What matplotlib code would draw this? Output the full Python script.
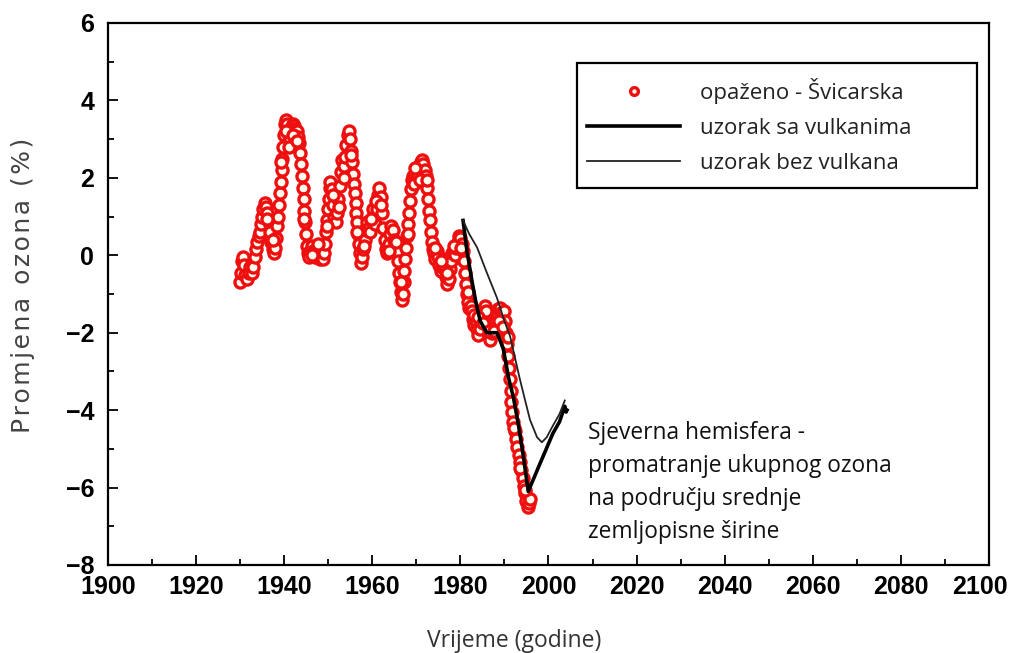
import numpy as np
import matplotlib.pyplot as plt
from matplotlib.patches import Rectangle
from matplotlib.transforms import ScaledTranslation

# observed ozone change, Switzerland (year, %)
obs_year = [
    1930.0, 1930.2, 1930.4, 1930.6, 1930.9, 1931.2, 1931.5, 1931.9, 1932.3, 1932.7,
    1933.0, 1933.3, 1933.6, 1933.9, 1934.2, 1934.5, 1934.8, 1935.0, 1935.3, 1935.6,
    1935.9, 1936.2, 1936.5, 1936.8, 1937.1, 1937.4, 1937.7, 1938.0, 1938.2, 1938.4,
    1938.6, 1938.8, 1939.0, 1939.2, 1939.4, 1939.6, 1939.8, 1940.0, 1940.2, 1940.4,
    1940.7, 1941.0, 1941.3, 1941.6, 1941.9, 1942.2, 1942.5, 1942.8, 1943.1, 1943.4,
    1943.6, 1943.8, 1944.0, 1944.2, 1944.4, 1944.6, 1944.8, 1945.0, 1945.2, 1945.4,
    1945.7, 1946.0, 1946.3, 1946.6, 1946.9, 1947.2, 1947.5, 1947.8, 1948.1, 1948.4,
    1948.7, 1949.0, 1949.3, 1949.5, 1949.7, 1949.9, 1950.1, 1950.3, 1950.5, 1950.8,
    1951.1, 1951.4, 1951.7, 1952.0, 1952.3, 1952.6, 1952.9, 1953.2, 1953.5, 1953.8,
    1954.1, 1954.4, 1954.7, 1955.0, 1955.2, 1955.4, 1955.6, 1955.8, 1956.0, 1956.2,
    1956.4, 1956.6, 1956.8, 1957.0, 1957.2, 1957.4, 1957.7, 1958.0, 1958.3, 1958.6,
    1958.9, 1959.2, 1959.5, 1959.8, 1960.1, 1960.4, 1960.7, 1961.0, 1961.3, 1961.6,
    1961.9, 1962.2, 1962.5, 1962.8, 1963.1, 1963.4, 1963.7, 1964.0, 1964.3, 1964.6,
    1964.9, 1965.2, 1965.5, 1965.8, 1966.1, 1966.3, 1966.5, 1966.7, 1966.9, 1967.1,
    1967.3, 1967.5, 1967.7, 1967.9, 1968.1, 1968.3, 1968.5, 1968.7, 1968.9, 1969.2,
    1969.5, 1969.8, 1970.1, 1970.4, 1970.7, 1971.0, 1971.3, 1971.6, 1971.9, 1972.2,
    1972.5, 1972.7, 1972.9, 1973.1, 1973.3, 1973.5, 1973.7, 1974.0, 1974.3, 1974.6,
    1974.9, 1975.2, 1975.5, 1975.8, 1976.1, 1976.4, 1976.7, 1977.0, 1977.3, 1977.6,
    1977.9, 1978.2, 1978.5, 1978.8, 1979.1, 1979.4, 1979.7, 1980.0, 1980.3, 1980.6,
    1980.8, 1981.0, 1981.2, 1981.4, 1981.7, 1982.0, 1982.3, 1982.6, 1982.9, 1983.2,
    1983.5, 1983.8, 1984.1, 1984.4, 1984.7, 1985.0, 1985.3, 1985.6, 1985.9, 1986.2,
    1986.5, 1986.8, 1987.1, 1987.4, 1987.7, 1988.0, 1988.3, 1988.6, 1988.9, 1989.2,
    1989.5, 1989.8, 1990.1, 1990.4, 1990.6, 1990.8, 1991.0, 1991.2, 1991.4, 1991.6,
    1991.8, 1992.0, 1992.3, 1992.6, 1992.9, 1993.2, 1993.5, 1993.8, 1994.1, 1994.4,
    1994.7, 1995.0, 1995.3, 1995.6, 1995.9,
    # second, overlapping readings where the band is wide
    1936.0, 1937.5, 1939.3, 1940.5, 1941.2, 1942.0, 1943.0, 1944.5, 1946.2, 1947.7,
    1949.8, 1951.0, 1952.4, 1953.6, 1955.1, 1956.5, 1958.2, 1959.6, 1960.9, 1962.0,
    1963.8, 1965.4, 1966.6, 1968.2, 1969.6, 1970.9, 1972.4, 1974.2, 1975.6, 1976.9,
    1978.6, 1980.2, 1981.8, 1983.0, 1984.0, 1985.2, 1986.4, 1987.6, 1988.8, 1989.6,
    1990.7, 1992.2, 1993.6, 1994.6,
]
obs_val = [
    -0.70, -0.45, -0.15, -0.05, -0.25, -0.50, -0.60, -0.45, -0.30, -0.45,
    -0.30, -0.05, 0.15, 0.35, 0.50, 0.60, 0.80, 1.00, 1.20, 1.35,
    1.25, 1.10, 0.85, 0.60, 0.35, 0.15, 0.05, 0.20, 0.45, 0.75,
    1.00, 1.30, 1.60, 1.90, 2.20, 2.50, 2.80, 3.10, 3.40, 3.50,
    3.40, 3.10, 3.00, 3.30, 3.40, 3.35, 3.25, 3.20, 3.05, 2.90,
    2.65, 2.35, 2.05, 1.75, 1.45, 1.15, 0.85, 0.55, 0.25, 0.05,
    -0.05, 0.10, 0.25, 0.10, -0.05, 0.05, 0.20, 0.05, -0.10, 0.00,
    -0.10, 0.05, 0.30, 0.60, 0.90, 1.20, 1.45, 1.75, 1.90, 1.70,
    1.30, 1.00, 0.85, 1.10, 1.45, 1.80, 2.15, 2.45, 2.30, 2.55,
    2.85, 3.10, 3.20, 3.00, 2.70, 2.40, 2.10, 1.85, 1.60, 1.35,
    1.10, 0.85, 0.55, 0.30, 0.05, -0.20, -0.05, 0.15, 0.40, 0.65,
    0.85, 0.70, 0.60, 0.90, 1.20, 1.00, 0.80, 1.20, 1.55, 1.75,
    1.50, 1.10, 0.70, 0.40, 0.15, 0.05, 0.30, 0.55, 0.75, 0.65,
    0.40, 0.20, 0.10, -0.15, -0.45, -0.70, -0.95, -1.15, -1.00, -0.70,
    -0.40, -0.10, 0.20, 0.50, 0.80, 1.10, 1.40, 1.70, 1.95, 2.05,
    1.85, 2.10, 2.25, 2.10, 2.30, 2.40, 2.45, 2.35, 2.20, 2.05,
    1.75, 1.45, 1.15, 0.90, 0.60, 0.35, 0.15, 0.05, -0.10, 0.10,
    -0.05, -0.25, -0.40, -0.30, -0.10, -0.30, -0.55, -0.75, -0.60, -0.35,
    -0.15, 0.05, 0.10, 0.00, 0.20, 0.35, 0.50, 0.45, 0.30, 0.10,
    -0.15, -0.45, -0.75, -1.00, -1.20, -1.35, -1.30, -1.45, -1.65, -1.80,
    -1.70, -1.90, -2.05, -1.90, -1.70, -1.55, -1.40, -1.30, -1.45, -1.75,
    -2.05, -2.20, -2.00, -1.80, -1.65, -1.70, -1.50, -1.40, -1.35, -1.50,
    -1.55, -1.45, -1.70, -2.00, -2.30, -2.60, -2.90, -3.20, -3.50, -3.80,
    -4.05, -4.30, -4.55, -4.75, -4.95, -5.15, -5.35, -5.55, -5.75, -5.95,
    -6.15, -6.35, -6.50, -6.40, -6.30,
    0.95, 0.40, 2.40, 3.20, 2.80, 3.10, 2.95, 0.95, 0.00, 0.30,
    0.75, 1.55, 1.25, 2.00, 2.60, 0.60, 0.25, 0.95, 1.40, 1.30,
    0.10, 0.35, -0.70, 0.55, 2.25, 1.95, 1.95, 0.20, -0.15, -0.45,
    0.25, 0.20, -0.95, -1.55, -1.60, -1.75, -1.95, -1.95, -1.70, -1.85,
    -2.10, -4.45, -5.50, -6.05,
]

# model with volcanoes
volc_year = [1980.6, 1981.5, 1982.6, 1983.5, 1984.5, 1986.0, 1988.3, 1989.7,
             1991.0, 1992.0, 1993.2, 1994.3, 1995.4, 1996.7, 1998.0, 1999.5,
             2001.0, 2002.5, 2003.7, 2004.0, 2004.2]
volc_val = [0.90, 0.10, -0.65, -1.20, -1.70, -2.00, -2.00, -2.40,
            -3.20, -3.65, -4.40, -5.20, -6.10, -5.75, -5.40, -5.00,
            -4.60, -4.30, -3.90, -4.05, -4.00]

# model without volcanoes
novolc_year = [1980.6, 1982.0, 1983.8, 1986.0, 1988.3, 1990.0, 1991.3, 1992.5,
               1993.5, 1994.7, 1995.8, 1997.4, 1998.5, 1999.6, 2001.0, 2002.5,
               2003.7]
novolc_val = [0.90, 0.55, 0.20, -0.45, -1.10, -1.70, -2.10, -2.70,
              -3.20, -3.75, -4.25, -4.70, -4.83, -4.70, -4.40, -4.10,
              -3.75]

x_ticks = np.arange(1900, 2101, 20)
y_ticks = np.arange(-8, 7, 2)

W, H = 1011, 653
fig = plt.figure(figsize=(W / 100, H / 100), dpi=100)
ax = fig.add_axes([108 / W, 1 - 565 / H, 881 / W, 542 / H])

ax.plot(obs_year, obs_val, linestyle='none', marker='o', markersize=8,
        markerfacecolor='#fffdf0', markeredgecolor='#ee1010', markeredgewidth=2.4,
        label='opaženo - Švicarska', zorder=2)
ax.plot(volc_year, volc_val, color='black', lw=2.6, label='uzorak sa vulkanima', zorder=3)
ax.plot(novolc_year, novolc_val, color='#222222', lw=1.3, label='uzorak bez vulkana', zorder=3)

ax.set_xlim(1900, 2100)
ax.set_ylim(-8, 6)
ax.set_xticks(x_ticks)
ax.set_yticks(y_ticks)
ax.set_xticks(np.arange(1910, 2100, 20), minor=True)
ax.set_yticks(np.arange(-7, 6, 2), minor=True)
ax.tick_params(which='both', direction='in', width=1.3, top=False, right=False)
ax.tick_params(which='major', length=7)
ax.tick_params(axis='x', which='major', pad=7)
ax.tick_params(axis='y', which='major', pad=10)
ax.tick_params(which='minor', length=4)
for lab in ax.get_xticklabels() + ax.get_yticklabels():
    lab.set_fontfamily('Liberation Sans')
    lab.set_fontweight('bold')
    lab.set_fontsize(18)
# last year label sits a bit left of its tick in the original
last = ax.get_xticklabels()[-1]
last.set_transform(last.get_transform() + ScaledTranslation(-0.09, 0, fig.dpi_scale_trans))
for sp in ax.spines.values():
    sp.set_linewidth(1.6)

ylabel = '\u200a'.join('Promjena ozona (%)')
fig.text(23 / W, 1 - 285 / H, ylabel, rotation=90, fontsize=18, color='#444444',
         family='DejaVu Sans', ha='center', va='center')
fig.text(514 / W, 1 - 647 / H, 'Vrijeme (godine)', fontsize=16.5, color='#333333',
         family='Open Sans', ha='center', va='baseline')

# legend box
ax.add_patch(Rectangle(((577 - 108) / 881, (565 - 188) / 542), 400 / 881, 125 / 542,
                       transform=ax.transAxes, fill=False, ec='black', lw=1.6, zorder=4))
leg = ax.legend(loc='upper left', bbox_to_anchor=((587 - 108) / 881, (565 - 78) / 542),
                frameon=False, borderpad=0, borderaxespad=0,
                prop={'family': 'Open Sans', 'size': 16}, handlelength=4.2,
                handletextpad=0.9, labelspacing=0.63, markerscale=0.7)
for t in leg.get_texts():
    t.set_color('#222222')

ax.text((588 - 108) / 881, (565 - 421) / 542,
        'Sjeverna hemisfera -\npromatranje ukupnog ozona\nna području srednje\nzemljopisne širine',
        transform=ax.transAxes, fontsize=16.4, family='Open Sans', va='top',
        ha='left', linespacing=1.5, color='#111111')

fig.savefig('out.png', dpi=100)
